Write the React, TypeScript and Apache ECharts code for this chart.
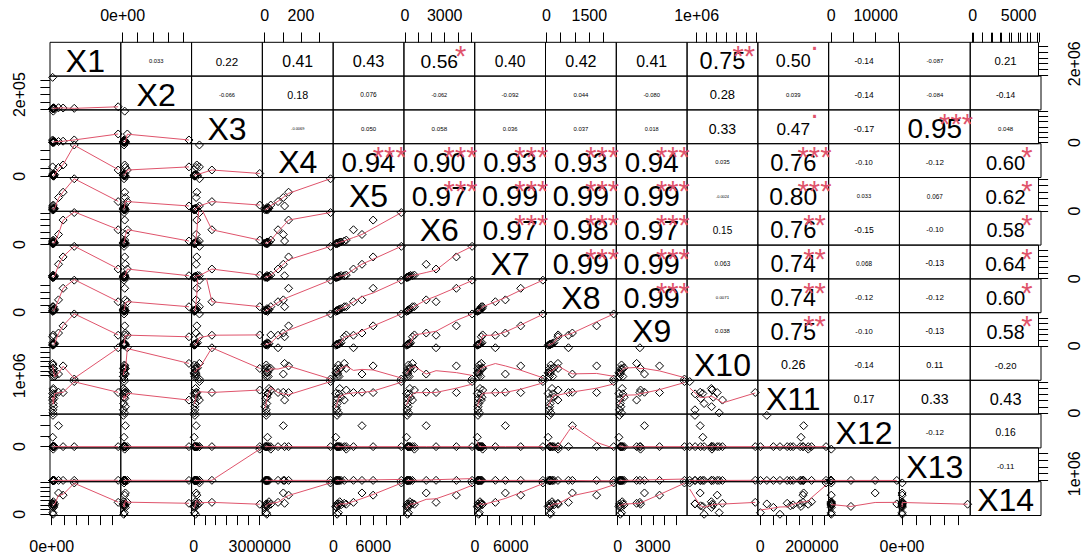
import React, { useEffect, useRef } from "react";
import * as echarts from "echarts";

// ---------------- data (15 observations, 14 variables) ----------------
const varNames = ["X1", "X2", "X3", "X4", "X5", "X6", "X7", "X8", "X9", "X10", "X11", "X12", "X13", "X14"];

const X1 = [1865000, 943000, 563000, 5500000, 75000, 129000, 102000, 80000, 131000, 184000, 90000, 156000, 238000, 98000, 120000];
const X2 = [9400, 13700, 18000, 31100, 440000, 13500, 5000, 9000, 6200, 14000, 9800, 18500, 5600, 11500, 7200];
const X3 = [258000, 139000, 109000, 825000, 255000, 3000000, 50000, 20000, 80000, 24000, 169000, 48000, 110000, 31000, 78000];
const X4 = [363, 132, 103, 74, 110, 34, 9, 16, 24, 6, 13, 2, 20, 9, 12];
const X5 = [10200, 5965, 4290, 3010, 1630, 1926, 547, 350, 941, 646, 1138, 449, 843, 744, 560];
const X6 = [5070, 3882, 1605, 2348, 566, 714, 170, 120, 368, 219, 417, 230, 318, 269, 194];
const X7 = [11400, 7673, 5092, 3409, 1053, 1278, 492, 380, 829, 604, 1165, 500, 941, 717, 610];
const X8 = [2350, 1755, 907, 770, 404, 410, 106, 60, 197, 129, 266, 110, 220, 152, 130];
const X9 = [5710, 3578, 2288, 1895, 1615, 1951, 156, 100, 381, 212, 549, 268, 437, 324, 220];
const X10 = [300000, 3072000, 1356000, 6900000, 3600000, 2544000, 828000, 1620000, 2478000, 1400000, 2676000, 2500000, 850000, 3270000, 1752000];
const X11 = [255000, 165750, 168300, 166000, 104550, 186150, 25500, 158100, 198900, 117300, 127500, 51000, 155000, 1000, 76500];
const X12 = [0, 0, 9880, 0, 0, 0, 14750, 4425, 0, 0, 0, 0, 0, 0, 0];
const X13 = [12000, 8000, 5000, 20000, 3000, 4660000, 0, 1000, 6000, 2000, 9000, 0, 4000, 1500, 2500];
const X14 = [6900, 4209, 4692, 2622, 2415, 2208, 2277, 1725, 2760, 1863, 2070, 1518, 2300, 345, 0];

const allVars = [X1, X2, X3, X4, X5, X6, X7, X8, X9, X10, X11, X12, X13, X14];

// correlation texts (upper panels), row i lists columns i+1..14
const corText: string[][] = [
  ["0.033", "0.22", "0.41", "0.43", "0.56", "0.40", "0.42", "0.41", "0.75", "0.50", "-0.14", "-0.087", "0.21"],
  ["-0.066", "0.18", "0.076", "-0.062", "-0.092", "0.044", "-0.080", "0.28", "0.039", "-0.14", "-0.084", "-0.14"],
  ["-0.0069", "0.050", "0.058", "0.036", "0.037", "0.018", "0.33", "0.47", "-0.17", "0.95", "0.048"],
  ["0.94", "0.90", "0.93", "0.93", "0.94", "0.035", "0.76", "-0.10", "-0.12", "0.60"],
  ["0.97", "0.99", "0.99", "0.99", "-0.0024", "0.80", "0.033", "0.067", "0.62"],
  ["0.97", "0.98", "0.97", "0.15", "0.76", "-0.15", "-0.10", "0.58"],
  ["0.99", "0.99", "0.063", "0.74", "0.068", "-0.13", "0.64"],
  ["0.99", "0.0071", "0.74", "-0.12", "-0.12", "0.60"],
  ["0.038", "0.75", "-0.10", "-0.13", "0.58"],
  ["0.26", "-0.14", "0.11", "-0.20"],
  ["0.17", "0.33", "0.43"],
  ["-0.12", "0.16"],
  ["-0.11"],
];
const corStars: string[][] = [
  ["", "", "", "", "*", "", "", "", "**", ".", "", "", ""],
  ["", "", "", "", "", "", "", "", "", "", "", ""],
  ["", "", "", "", "", "", "", ".", "", "***", ""],
  ["***", "***", "***", "***", "***", "", "***", "", "", "*"],
  ["***", "***", "***", "***", "", "***", "", "", "*"],
  ["***", "***", "***", "", "**", "", "", "*"],
  ["***", "***", "", "**", "", "", "*"],
  ["***", "", "**", "", "", "*"],
  ["", "**", "", "", "*"],
  ["", "", "", ""],
  ["", "", ""],
  ["", ""],
  [""],
];

// axis ticks
const tickStep = [1e6, 1e5, 5e5, 100, 2000, 1000, 2000, 500, 1000, 1e6, 50000, 5000, 1e6, 1000];
const sciVars = [true, true, false, false, false, false, false, false, false, true, false, false, true, false];
const topLabels: Record<number, number[]> = { 1: [0], 3: [0, 200], 5: [0, 3000], 7: [0, 1500], 9: [1e6], 11: [0, 10000], 13: [0, 5000] };
const bottomLabels: Record<number, number[]> = { 0: [0], 2: [0, 3000000], 4: [0, 6000], 6: [0, 6000], 8: [0, 3000], 10: [0, 200000], 12: [0] };
const leftLabels: Record<number, number[]> = { 1: [2e5], 3: [0], 5: [0], 7: [0], 9: [1e6], 11: [0], 13: [0] };
const rightLabels: Record<number, number[]> = { 0: [2e6], 2: [0], 4: [0], 6: [0], 8: [0], 10: [0], 12: [1e6] };

// ---------------- layout / style ----------------
const N = 14;
const L = 50;
const T = 42.3;
const CW = (1041 - 50) / N;
const CH = (515.5 - 42.3) / N;
const TICK = 9.6;
const FONT = '"Liberation Sans", Arial, sans-serif';
const RED = "#DF536B";

function fmt(v: number, sci: boolean): string {
  if (!sci) return String(Math.round(v));
  if (v === 0) return "0e+00";
  const e = Math.floor(Math.log10(Math.abs(v)) + 1e-9);
  const m = Math.round(v / Math.pow(10, e));
  return `${m}e+${String(e).padStart(2, "0")}`;
}

function charW(c: string) {
  if (c === ".") return 0.278;
  if (c === "-") return 0.333;
  return 0.556;
}
function textEm(s: string) {
  let w = 0;
  for (const c of s) w += charW(c);
  return w;
}

// R's clowess
function lowess(xIn: number[], yIn: number[], f = 2 / 3, iter = 3): number[][] {
  const n = xIn.length;
  const idx = xIn.map((_, i) => i).sort((a, b) => xIn[a] - xIn[b]);
  const x = idx.map((i) => xIn[i]);
  const y = idx.map((i) => yIn[i]);
  const ys = new Array(n).fill(0);
  const rw = new Array(n).fill(1);
  const res = new Array(n).fill(0);
  const w = new Array(n).fill(0);
  if (n < 2) return [[x[0], y[0]]];
  const delta = 0.01 * (x[n - 1] - x[0]);
  const ns = Math.max(2, Math.min(n, Math.floor(f * n + 1e-7)));
  const lowest = (xs: number, nleft: number, nright: number, userw: boolean): number | null => {
    const range = x[n - 1] - x[0];
    const h = Math.max(xs - x[nleft], x[nright] - xs);
    const h9 = 0.999 * h;
    const h1 = 0.001 * h;
    let a = 0;
    let j = nleft;
    while (j < n) {
      w[j] = 0;
      const r = Math.abs(x[j] - xs);
      if (r <= h9) {
        if (r <= h1) w[j] = 1;
        else w[j] = Math.pow(1 - Math.pow(r / h, 3), 3);
        if (userw) w[j] *= rw[j];
        a += w[j];
      } else if (x[j] > xs) break;
      j++;
    }
    const nrt = j - 1;
    if (a <= 0) return null;
    for (j = nleft; j <= nrt; j++) w[j] /= a;
    if (h > 0) {
      a = 0;
      for (j = nleft; j <= nrt; j++) a += w[j] * x[j];
      let b = xs - a;
      let c = 0;
      for (j = nleft; j <= nrt; j++) c += w[j] * (x[j] - a) * (x[j] - a);
      if (Math.sqrt(c) > 0.001 * range) {
        b /= c;
        for (j = nleft; j <= nrt; j++) w[j] *= b * (x[j] - a) + 1;
      }
    }
    let out = 0;
    for (j = nleft; j <= nrt; j++) out += w[j] * y[j];
    return out;
  };
  for (let it = 1; it <= iter + 1; it++) {
    let nleft = 0;
    let nright = ns - 1;
    let last = -1;
    let i = 0;
    let guard = 0;
    for (;;) {
      if (guard++ > 10000) break;
      if (nright < n - 1) {
        const d1 = x[i] - x[nleft];
        const d2 = x[nright + 1] - x[i];
        if (d1 > d2) {
          nleft++;
          nright++;
          continue;
        }
      }
      const v = lowest(x[i], nleft, nright, it > 1);
      ys[i] = v === null ? y[i] : v;
      if (last < i - 1) {
        const denom = x[i] - x[last];
        for (let j = last + 1; j < i; j++) {
          const alpha = (x[j] - x[last]) / denom;
          ys[j] = alpha * ys[i] + (1 - alpha) * ys[last];
        }
      }
      last = i;
      const cut = x[last] + delta;
      for (i = last + 1; i < n; i++) {
        if (x[i] > cut) break;
        if (x[i] === x[last]) {
          ys[i] = ys[last];
          last = i;
        }
      }
      i = Math.max(last + 1, i - 1);
      if (last >= n - 1) break;
    }
    for (let k = 0; k < n; k++) res[k] = y[k] - ys[k];
    if (it > iter) break;
    const sc = res.reduce((s, r) => s + Math.abs(r), 0) / n;
    const ar = res.map((r) => Math.abs(r));
    const sorted = [...ar].sort((a, b) => a - b);
    const m1 = Math.floor(n / 2);
    const cmad = n % 2 === 0 ? 3 * (sorted[m1 - 1] + sorted[m1]) : 6 * sorted[m1];
    if (cmad < 1e-7 * sc) break;
    const c9 = 0.999 * cmad;
    const c1 = 0.001 * cmad;
    for (let k = 0; k < n; k++) {
      const r = ar[k];
      rw[k] = r <= c1 ? 1 : r <= c9 ? Math.pow(1 - Math.pow(r / cmad, 2), 2) : 0;
    }
  }
  return x.map((xv, k) => [xv, ys[k]]);
}

function buildOption() {
  const ranges = allVars.map((v) => {
    const lo = Math.min(...v);
    const hi = Math.max(...v);
    const d = hi - lo;
    return [lo - 0.04 * d, hi + 0.04 * d];
  });
  const ticksOf = (k: number) => {
    const [a, b] = ranges[k];
    const st = tickStep[k];
    const out: number[] = [];
    for (let m = Math.ceil(a / st - 1e-9); m * st <= b + 1e-9; m++) out.push(m * st);
    return out;
  };

  const grids: any[] = [];
  const xAxes: any[] = [];
  const yAxes: any[] = [];
  const series: any[] = [];
  const graphics: any[] = [];

  for (let i = 0; i < N; i++) {
    for (let j = 0; j < N; j++) {
      const g = i * N + j;
      grids.push({
        left: L + j * CW,
        top: T + i * CH,
        width: CW,
        height: CH,
        show: true,
        borderColor: "#000",
        borderWidth: 1,
        backgroundColor: "rgba(0,0,0,0)",
      });
      const xTop = i === 0 && j % 2 === 1;
      const xBottom = i === N - 1 && j % 2 === 0;
      const xl = xTop ? topLabels[j] : xBottom ? bottomLabels[j] : null;
      xAxes.push({
        gridIndex: g,
        type: "value",
        min: ranges[j][0],
        max: ranges[j][1],
        position: xTop ? "top" : "bottom",
        show: !!xl,
        axisLine: { show: false, onZero: false },
        splitLine: { show: false },
        axisTick: {
          show: true,
          inside: false,
          length: TICK,
          customValues: ticksOf(j),
          lineStyle: { color: "#000", width: 1 },
        },
        axisLabel: {
          show: true,
          customValues: xl || [],
          formatter: (v: number) => fmt(v, sciVars[j]),
          fontSize: 16,
          fontFamily: FONT,
          color: "#000",
          margin: xTop ? 19 : 22.7,
        },
      });
      const yLeft = j === 0 && i % 2 === 1;
      const yRight = j === N - 1 && i % 2 === 0;
      const yl = yLeft ? leftLabels[i] : yRight ? rightLabels[i] : null;
      yAxes.push({
        gridIndex: g,
        type: "value",
        min: ranges[i][0],
        max: ranges[i][1],
        position: yRight ? "right" : "left",
        show: !!yl,
        axisLine: { show: false, onZero: false },
        splitLine: { show: false },
        axisTick: {
          show: true,
          inside: false,
          length: TICK,
          customValues: ticksOf(i),
          lineStyle: { color: "#000", width: 1 },
        },
        axisLabel: {
          show: true,
          customValues: yl || [],
          formatter: (v: number) => fmt(v, sciVars[i]),
          rotate: 90,
          fontSize: 16,
          fontFamily: FONT,
          color: "#000",
          margin: yRight ? 27.5 : 22.5,
        },
      });

      if (i > j) {
        const xs = allVars[j];
        const ys = allVars[i];
        series.push({
          type: "scatter",
          xAxisIndex: g,
          yAxisIndex: g,
          data: xs.map((xv, k) => [xv, ys[k]]),
          symbol: "diamond",
          symbolSize: 8,
          itemStyle: { color: "rgba(0,0,0,0)", borderColor: "#000", borderWidth: 1, opacity: 1 },
          silent: true,
          z: 2,
        });
        series.push({
          type: "line",
          xAxisIndex: g,
          yAxisIndex: g,
          data: lowess(xs, ys),
          symbol: "none",
          showSymbol: false,
          lineStyle: { color: RED, width: 1 },
          silent: true,
          clip: true,
          z: 3,
        });
      } else if (i === j) {
        graphics.push({
          type: "text",
          x: L + (j + 0.5) * CW,
          y: T + (i + 0.5) * CH + 1.7,
          z: 10,
          style: {
            text: varNames[i],
            fontSize: 32,
            fontFamily: FONT,
            fill: "#000",
            align: "center",
            verticalAlign: "middle",
            textAlign: "center",
            textVerticalAlign: "middle",
          },
        });
      } else {
        const txt = corText[i][j - i - 1];
        const stars = corStars[i][j - i - 1];
        const r = Math.abs(parseFloat(txt));
        const sBase = (0.8 * CW) / textEm(txt);
        const sNum = (sBase * (r + 0.3)) / 1.3;
        graphics.push({
          type: "text",
          x: L + (j + 0.5) * CW,
          y: T + (i + 0.5) * CH + 1.7 + 0.012 * sNum,
          z: 10,
          style: {
            text: txt,
            fontSize: sNum,
            fontFamily: FONT,
            fill: "#000",
            align: "center",
            verticalAlign: "middle",
            textAlign: "center",
            textVerticalAlign: "middle",
          },
        });
        if (stars) {
          const target = T + i * CH + 0.2 * CH;
          const yy = stars === "." ? target - 0.2945 * sBase : target + 0.2375 * sBase;
          graphics.push({
            type: "text",
            x: L + (j + 0.8) * CW,
            y: yy,
            z: 11,
            style: {
              text: stars,
              fontSize: sBase,
              fontFamily: FONT,
              fill: RED,
              align: "center",
              verticalAlign: "middle",
              textAlign: "center",
              textVerticalAlign: "middle",
            },
          });
        }
      }
    }
  }

  // strips above the top row: their bottom x-axis (at the top edge of row 1) carries inward ticks
  for (let j = 1; j < N; j += 2) {
    const g = grids.length;
    grids.push({ left: L + j * CW, top: T - 20, width: CW, height: 20, show: false });
    xAxes.push({
      gridIndex: g,
      type: "value",
      min: ranges[j][0],
      max: ranges[j][1],
      position: "bottom",
      show: true,
      axisLine: { show: false, onZero: false },
      splitLine: { show: false },
      axisLabel: { show: false },
      axisTick: {
        show: true,
        inside: true,
        length: TICK,
        customValues: ticksOf(j),
        lineStyle: { color: "#000", width: 1 },
      },
      z: 20,
    });
    yAxes.push({
      gridIndex: g,
      type: "value",
      min: 0,
      max: 1,
      show: true,
      axisLine: { show: false, onZero: false },
      axisTick: { show: false },
      axisLabel: { show: false },
      splitLine: { show: false },
    });
  }

  return {
    animation: false,
    backgroundColor: "#fff",
    textStyle: { fontFamily: FONT },
    grid: grids,
    xAxis: xAxes,
    yAxis: yAxes,
    series,
    graphic: graphics,
  };
}

export default function App() {
  const ref = useRef<HTMLDivElement>(null);
  useEffect(() => {
    if (!ref.current) return;
    const chart = echarts.init(ref.current, undefined, { renderer: "svg" });
    chart.setOption(buildOption() as any);
    return () => chart.dispose();
  }, []);
  return (
    <div
      ref={ref}
      style={{ position: "fixed", left: 0, top: 0, width: 1082, height: 559, background: "#fff" }}
    />
  );
}
